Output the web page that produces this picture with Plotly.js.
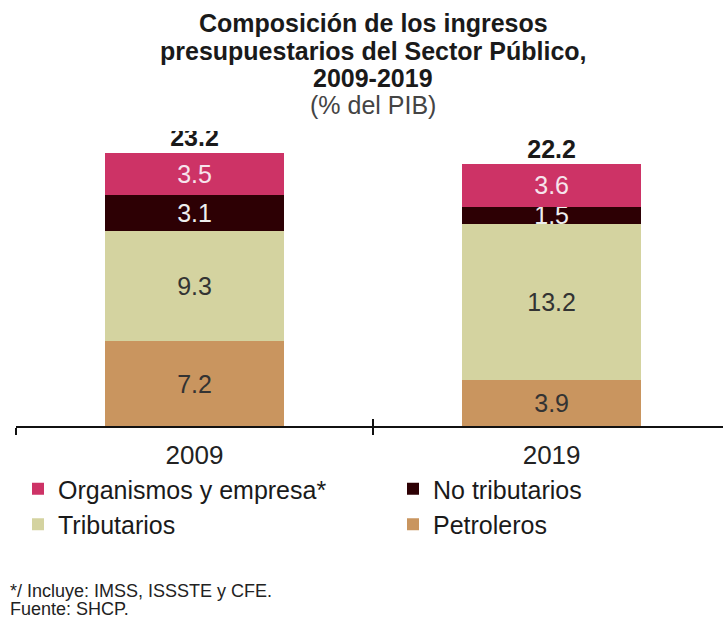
<!DOCTYPE html>
<html>
<head>
<meta charset="utf-8">
<script src="https://cdn.plot.ly/plotly-3.0.1.min.js"></script>
<style>
  html, body { margin: 0; padding: 0; background: #fff; }
  #chart { width: 723px; height: 619px; }
</style>
</head>
<body>
<div id="chart"></div>
<script>
// Datos (% del PIB)
const years = ['2009', '2019'];
const petroleros = [7.2, 3.9];
const tributarios = [9.3, 13.2];
const noTributarios = [3.1, 1.5];
const organismos = [3.5, 3.6];
const totals = [23.2, 22.2];

const font = 'Liberation Sans, Arial, sans-serif';

// legend: columna izquierda / columna derecha
function barTrace(name, values, color, textColor, legend) {
    return {
        type: 'bar',
        name: name,
        x: years,
        y: values,
        legend: legend,
        marker: { color: color, line: { width: 0 } },
        text: values.map(v => v.toFixed(1)),
        textposition: 'inside',
        insidetextanchor: 'middle',
        textangle: 0,
        constraintext: 'none',
        textfont: { family: font, size: 25, color: textColor },
        hoverinfo: 'skip'
    };
}

const traces = [
    barTrace('Petroleros', petroleros, '#c9955f', '#333333', 'legend2'),
    barTrace('Tributarios', tributarios, '#d4d3a0', '#333333', 'legend'),
    barTrace('No tributarios', noTributarios, '#2d0004', '#eeeeee', 'legend2'),
    barTrace('Organismos y empresa*', organismos, '#cd3366', '#f6e4ec', 'legend'),
    {
        type: 'scatter',
        mode: 'text',
        x: years,
        y: totals,
        text: totals.map(v => '<b>' + v.toFixed(1) + '</b>'),
        textposition: 'top center',
        textfont: { family: font, size: 25, color: '#1a1a1a' },
        showlegend: false,
        hoverinfo: 'skip'
    },
    {
        // capa para las marcas del eje hacia arriba
        type: 'scatter',
        mode: 'none',
        x: years,
        y: [0, 0],
        xaxis: 'x2',
        showlegend: false,
        hoverinfo: 'skip'
    }
];

function py(pixelY) { return (426 - pixelY) / 295; }
function px(pixelX) { return (pixelX - 16) / 707; }

const titleLines = [
    ['<b>Composición de los ingresos</b>', 23],
    ['<b>presupuestarios del Sector Público,</b>', 51],
    ['<b>2009-2019</b>', 78],
    ['(% del PIB)', 105]
];

const annotations = titleLines.map(([t, y], i) => ({
    text: t,
    xref: 'paper', yref: 'paper',
    x: px(373), y: py(y),
    xanchor: 'center', yanchor: 'middle',
    showarrow: false,
    font: { family: font, size: 25, color: i < 3 ? '#1a1a1a' : '#444444' }
}));

annotations.push(
    {
        text: '*/ Incluye: IMSS, ISSSTE y CFE.',
        xref: 'paper', yref: 'paper',
        x: px(8), y: py(591),
        xanchor: 'left', yanchor: 'middle',
        showarrow: false,
        font: { family: font, size: 18, color: '#222222' }
    },
    {
        text: 'Fuente: SHCP.',
        xref: 'paper', yref: 'paper',
        x: px(8), y: py(609),
        xanchor: 'left', yanchor: 'middle',
        showarrow: false,
        font: { family: font, size: 18, color: '#222222' }
    }
);

const legendBase = {
    orientation: 'v',
    traceorder: 'reversed',
    y: py(466),
    xanchor: 'left', yanchor: 'top',
    tracegroupgap: 0,
    font: { family: font, size: 25, color: '#1a1a1a' },
    itemclick: false
};

const layout = {
    width: 723,
    height: 619,
    margin: { l: 16, r: 0, t: 131, b: 193 },
    paper_bgcolor: '#ffffff',
    plot_bgcolor: '#ffffff',
    barmode: 'stack',
    bargap: 0.5,
    showlegend: true,
    legend: Object.assign({}, legendBase, { x: px(18) }),
    legend2: Object.assign({}, legendBase, { x: px(393) }),
    xaxis: {
        type: 'category',
        categoryarray: years,
        range: [-0.5, 1.48],
        tickson: 'boundaries',
        ticks: 'outside',
        ticklen: 7,
        tickwidth: 2,
        tickcolor: '#111111',
        showline: true,
        linecolor: '#111111',
        linewidth: 2,
        showgrid: false,
        zeroline: false,
        ticklabelstandoff: 5,
        tickfont: { family: font, size: 26, color: '#222222' },
        fixedrange: true
    },
    xaxis2: {
        type: 'category',
        categoryarray: years,
        overlaying: 'x',
        anchor: 'y',
        side: 'bottom',
        range: [-0.5, 1.48],
        tickson: 'boundaries',
        ticks: 'inside',
        ticklen: 7,
        tickwidth: 2,
        tickcolor: '#111111',
        showticklabels: false,
        showline: false,
        showgrid: false,
        zeroline: false,
        fixedrange: true
    },
    yaxis: {
        range: [0, 25],
        visible: false,
        fixedrange: true
    },
    annotations: annotations
};

Plotly.newPlot('chart', traces, layout, { displayModeBar: false, staticPlot: true });
</script>
</body>
</html>
